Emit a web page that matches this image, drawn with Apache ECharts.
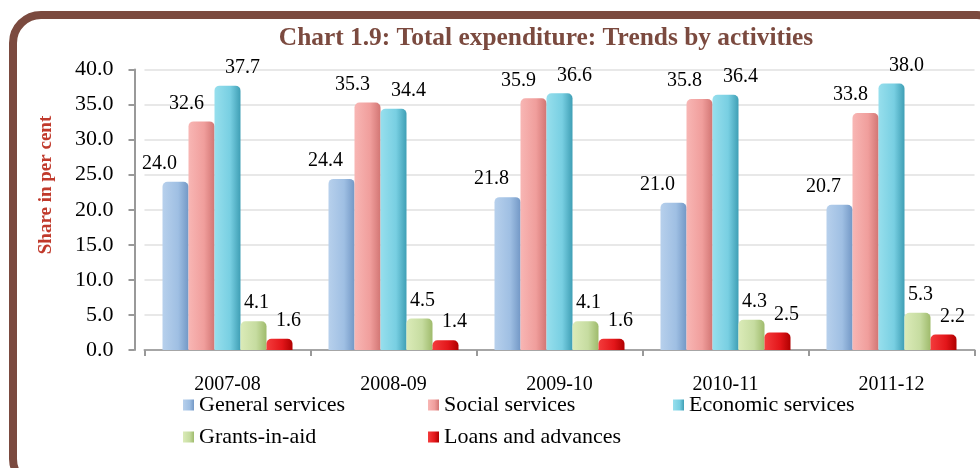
<!DOCTYPE html>
<html><head><meta charset="utf-8">
<script src="https://cdn.jsdelivr.net/npm/echarts@6/dist/echarts.min.js"></script>
<style>
html,body{margin:0;padding:0;width:980px;height:468px;overflow:hidden;background:#fff;}
#frame{position:absolute;left:9px;top:11px;width:1000px;height:480px;border:8px solid #7b4a3f;border-radius:32px;box-sizing:border-box;}
#c{position:absolute;left:0;top:0;width:980px;height:468px;}
</style></head>
<body><div id="frame"></div><div id="c"></div>
<script>
const categories = ['2007-08','2008-09','2009-10','2010-11','2011-12'];
const seriesNames = ['General services','Social services','Economic services','Grants-in-aid','Loans and advances'];
const generalServices = [24.0, 24.4, 21.8, 21.0, 20.7];
const socialServices = [32.6, 35.3, 35.9, 35.8, 33.8];
const economicServices = [37.7, 34.4, 36.6, 36.4, 38.0];
const grantsInAid = [4.1, 4.5, 4.1, 4.3, 5.3];
const loansAndAdvances = [1.6, 1.4, 1.6, 2.5, 2.2];
const yTicks = [0, 5, 10, 15, 20, 25, 30, 35, 40];

const values = [generalServices, socialServices, economicServices, grantsInAid, loansAndAdvances];
const grads = [
  ['#b7d0ec','#9fbfe3','#7398c6'],
  ['#f8b6b4','#f09e9c','#d27674'],
  ['#97dfed','#78cfe2','#3f9fb5'],
  ['#dbebb8','#c6dca0','#9fbb6c'],
  ['#f43c3c','#e3161a','#b00000']
];
const labelShift = [-16, -15, 15, 3, 9];
const legendPos = [[183,394],[428,394],[673,394],[183,426],[428,426]];
const font = 'Liberation Serif';
const mkGrad = g => new echarts.graphic.LinearGradient(0,0,1,0,[{offset:0,color:g[0]},{offset:0.6,color:g[1]},{offset:1,color:g[2]}]);
const chart = echarts.init(document.getElementById('c'));
chart.setOption({
  animation:false,
  backgroundColor:'transparent',
  textStyle:{fontFamily:font},
  title:{text:'Chart 1.9: Total expenditure: Trends by activities',left:541,top:21,textAlign:'center',
    textStyle:{fontFamily:font,fontWeight:'bold',fontSize:25.4,color:'#7b4a3f'}},
  grid:{left:144.5,right:5.5,top:69.5,bottom:118},
  legend: seriesNames.map((n,i)=>({data:[n],
      left:legendPos[i][0],top:legendPos[i][1],itemWidth:11,itemHeight:11,itemGap:5,padding:0,
      icon:'rect',
      textStyle:{fontFamily:font,fontSize:22,color:'#000'}})),
  graphic:[{type:'text',x:46,y:185,rotation:Math.PI/2,
    style:{text:'Share in per cent',font:'bold 19px "Liberation Serif"',fill:'#c0392b',textAlign:'center',textVerticalAlign:'middle'}}],
  xAxis:{type:'category',data:categories,
    axisLine:{lineStyle:{color:'#a6a6a6',width:2}},
    axisTick:{show:true,length:6,lineStyle:{color:'#999',width:2}},
    axisLabel:{fontFamily:font,fontSize:20,color:'#000',margin:25}},
  yAxis:{type:'value',min:0,max:40,interval:5,offset:10,
    axisLine:{show:true,lineStyle:{color:'#999',width:2}},
    axisTick:{show:true,length:6,lineStyle:{color:'#999',width:2}},
    axisLabel:{fontFamily:font,fontSize:22,color:'#000',margin:21,formatter:v=>v.toFixed(1)},
    splitLine:{lineStyle:{color:'#e8e8e8',width:2}}},
  series: seriesNames.map((n,i)=>({
    name:n,type:'bar',data:values[i],barWidth:26,barGap:'0%',
    itemStyle:{borderRadius:[5,5,0,0],color:mkGrad(grads[i])},
    label:{show:true,position:'top',distance:8,offset:[labelShift[i],0],fontFamily:font,fontSize:20,color:'#000',formatter:p=>p.value.toFixed(1)}
  }))
});
</script></body></html>
